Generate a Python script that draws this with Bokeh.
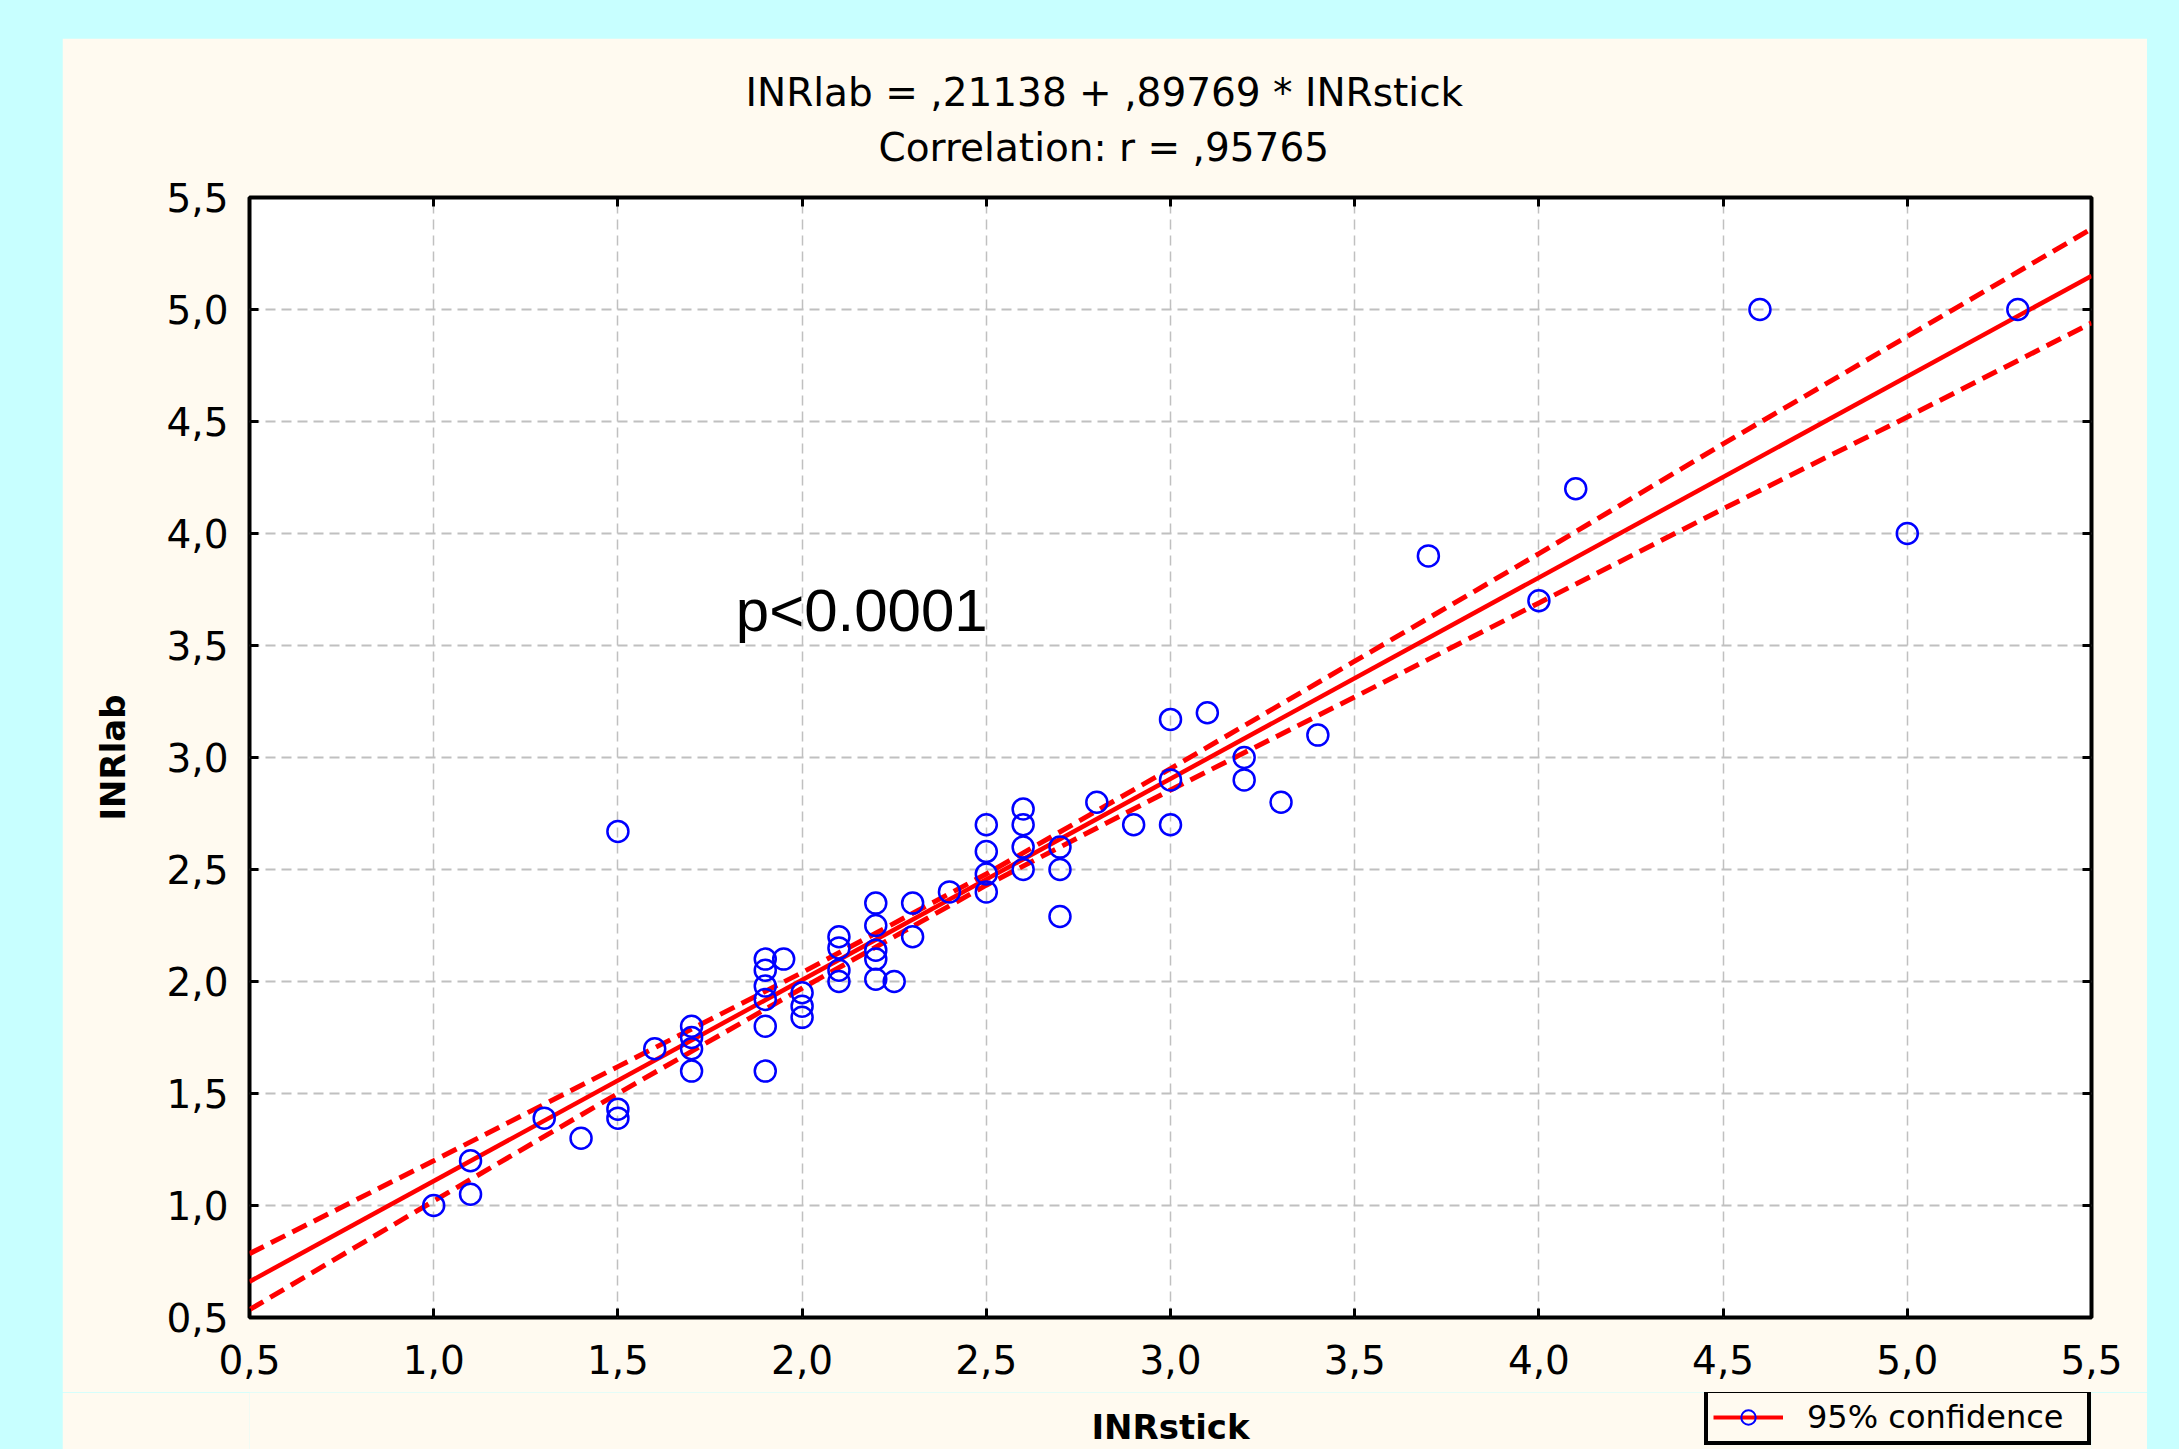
from bokeh.plotting import figure
from bokeh.models import (FixedTicker, LinearAxis, Label, Legend, LegendItem,
                          Range1d, Title, ColumnDataSource)
from bokeh.layouts import column
from bokeh.embed import file_html
from bokeh.resources import INLINE

# ---------------- data ----------------
inr_stick = [1.0, 1.1, 1.1, 1.3, 1.4, 1.5, 1.5, 1.5, 1.6, 1.7, 1.7, 1.7, 1.7,
             1.9, 1.9, 1.9, 1.9, 1.9, 1.9, 1.95, 2.0, 2.0, 2.0,
             2.1, 2.1, 2.1, 2.1, 2.2, 2.2, 2.2, 2.2, 2.2, 2.25, 2.3, 2.3, 2.4,
             2.5, 2.5, 2.5, 2.5, 2.6, 2.6, 2.6, 2.6, 2.7, 2.7, 2.7, 2.8, 2.9,
             3.0, 3.0, 3.0, 3.1, 3.2, 3.2, 3.3, 3.4, 3.7, 4.0, 4.1, 4.6, 5.0, 5.3]
inr_lab = [1.0, 1.2, 1.05, 1.39, 1.3, 1.43, 1.39, 2.67, 1.7, 1.8, 1.75, 1.7, 1.6,
           2.1, 2.05, 1.98, 1.92, 1.8, 1.6, 2.1, 1.95, 1.89, 1.84,
           2.2, 2.15, 2.05, 2.0, 2.35, 2.25, 2.14, 2.1, 2.01, 2.0, 2.35, 2.2, 2.4,
           2.7, 2.58, 2.48, 2.4, 2.77, 2.7, 2.6, 2.5, 2.6, 2.5, 2.29, 2.8, 2.7,
           3.17, 2.9, 2.7, 3.2, 3.0, 2.9, 2.8, 3.1, 3.9, 3.7, 4.2, 5.0, 4.0, 5.0]

fit_x = [0.5, 5.5]
fit_y = [0.66, 5.15]

band_x = [0.5, 1.0, 1.5, 2.0, 2.5, 3.0, 3.5, 4.0, 4.5, 5.0, 5.5]
band_upper = [0.785, 1.20, 1.62, 2.04, 2.48, 2.95, 3.43, 3.91, 4.40, 4.88, 5.36]
band_lower = [0.535, 1.02, 1.50, 1.97, 2.43, 2.855, 3.27, 3.69, 4.11, 4.52, 4.94]

tick_values = [0.5, 1.0, 1.5, 2.0, 2.5, 3.0, 3.5, 4.0, 4.5, 5.0, 5.5]
tick_labels = ["0,5", "1,0", "1,5", "2,0", "2,5", "3,0", "3,5", "4,0", "4,5", "5,0", "5,5"]

title_line1 = "INRlab = ,21138 + ,89769 * INRstick"
title_line2 = "Correlation: r = ,95765"
p_text = "p<0.0001"
legend_text = "95% confidence"
x_label = "INRstick"
y_label = "INRlab"

# ---------------- styling ----------------
CYAN = "#C8FFFF"
CREAM = "#FFFAF0"
PAGE_W, PAGE_H = 2179, 1449
ML, MR, MT = 62, 32, 38            # cyan margins around the cream panel
PW = PAGE_W - ML - MR              # cream panel width
SPLIT = 1392                       # page y where the lower strip starts
P1_H = SPLIT - MT                  # main figure height
P2_H = PAGE_H - SPLIT              # strip below with axis title + legend
FL, FR, FT, FB = 187, 2029, 159, 1279   # frame edges inside the main figure

p = figure(width=PW, height=P1_H, output_backend="svg", toolbar_location=None,
           x_range=Range1d(0.5, 5.5), y_range=Range1d(0.5, 5.5),
           min_border_left=FL, min_border_right=PW - FR,
           min_border_top=FT, min_border_bottom=P1_H - FB,
           border_fill_color=CREAM, background_fill_color="white",
           y_axis_label=y_label)
p.margin = (MT, MR, 0, ML)
p.outline_line_color = "black"
p.outline_line_width = 4
p.outline_line_alpha = 1

ticker = FixedTicker(ticks=tick_values)
overrides = dict(zip(tick_values, tick_labels))

for ax in (p.xaxis[0], p.yaxis[0]):
    ax.ticker = ticker
    ax.major_label_overrides = overrides
    ax.axis_line_color = None
    ax.major_tick_in = 9
    ax.major_tick_out = 0
    ax.major_tick_line_width = 3
    ax.major_tick_line_color = "black"
    ax.minor_tick_line_color = None
    ax.major_label_text_font = "DejaVu Sans"
    ax.major_label_text_font_size = "39px"
    ax.major_label_text_color = "black"
p.xaxis[0].major_label_standoff = 27
p.yaxis[0].major_label_standoff = 21
p.yaxis[0].axis_label_text_font = "DejaVu Sans"
p.yaxis[0].axis_label_text_font_style = "bold"
p.yaxis[0].axis_label_text_font_size = "34px"
p.yaxis[0].axis_label_text_color = "black"
p.yaxis[0].axis_label_standoff = 30

for side in ("above", "right"):
    ax = LinearAxis(ticker=FixedTicker(ticks=tick_values), axis_line_color=None,
                    major_tick_in=9, major_tick_out=0, major_tick_line_width=3,
                    major_tick_line_color="black", minor_tick_line_color=None,
                    major_label_text_font_size="0px", major_label_text_color=None,
                    major_label_standoff=0)
    p.add_layout(ax, side)

# two-line title (line nearest the frame added first)
p.add_layout(Title(text=title_line2, align="left", offset=629, standoff=55,
                   text_font="DejaVu Sans", text_font_size="39px",
                   text_font_style="normal", text_color="black"), "above")
p.add_layout(Title(text=title_line1, align="left", offset=496, standoff=-38,
                   text_font="DejaVu Sans", text_font_size="39px",
                   text_font_style="normal", text_color="black"), "above")

p.xgrid.ticker = ticker
p.ygrid.ticker = ticker
p.xgrid.grid_line_color = "#C0C0C0"
p.xgrid.grid_line_width = 1.5
p.xgrid.grid_line_dash = "10 6"
p.ygrid.grid_line_color = "#C0C0C0"
p.ygrid.grid_line_width = 2
p.ygrid.grid_line_dash = "10 6"

# confidence bands and fit
p.line(band_x, band_upper, line_color="red", line_width=5, line_dash="16 8")
p.line(band_x, band_lower, line_color="red", line_width=5, line_dash="16 8")
p.line(fit_x, fit_y, line_color="red", line_width=4.5)
p.scatter(inr_stick, inr_lab, marker="circle", size=21, fill_color=None,
          line_color="blue", line_width=2.5)

# p-value annotation
p.add_layout(Label(x=1.82, y=3.656, text=p_text, text_align="left",
                   text_baseline="middle", text_font="Liberation Sans",
                   text_font_size="60px", text_color="black"))

# ---------------- strip below: x-axis title and legend ----------------
# (its frame is aligned with the main frame by the column layout)
p2 = figure(width=PW, height=P2_H, output_backend="svg", toolbar_location=None,
            x_range=Range1d(0, 1), y_range=Range1d(0, 1),
            x_axis_type=None, y_axis_type=None,
            min_border_left=FL, min_border_right=PW - FR,
            min_border_top=0, min_border_bottom=0,
            border_fill_color=CREAM, background_fill_color=CREAM)
p2.margin = (0, MR, 0, ML)
p2.outline_line_color = None
p2.xgrid.visible = False
p2.ygrid.visible = False

p2.add_layout(Label(x=(FR - FL) / 2, y=23, x_units="screen", y_units="screen",
                    text=x_label, text_align="center", text_baseline="middle",
                    text_font="DejaVu Sans", text_font_style="bold",
                    text_font_size="34px", text_color="black"))

# legend-only proxies (no visible data points)
nan = float("nan")
proxy = ColumnDataSource(data=dict(x=[nan], y=[nan]))
leg_line = p2.line("x", "y", source=proxy, line_color="red", line_width=4)
leg_pts = p2.scatter("x", "y", source=proxy, marker="circle", size=19,
                     fill_color=None, line_color="blue", line_width=2)
legend = Legend(items=[LegendItem(label=legend_text, renderers=[leg_line, leg_pts])],
                location=(1704 - ML - FL, 4), padding=5, margin=0, spacing=0,
                glyph_width=70, glyph_height=36, label_standoff=24, label_width=275,
                label_text_font="DejaVu Sans", label_text_font_size="32px",
                label_text_color="black", border_line_color="black",
                border_line_width=4, border_line_alpha=1,
                background_fill_color=CREAM, background_fill_alpha=1)
p2.add_layout(legend)

layout = column(p, p2, spacing=0, styles={"background-color": CYAN})

open("out.html", "w").write(file_html(layout, INLINE))
